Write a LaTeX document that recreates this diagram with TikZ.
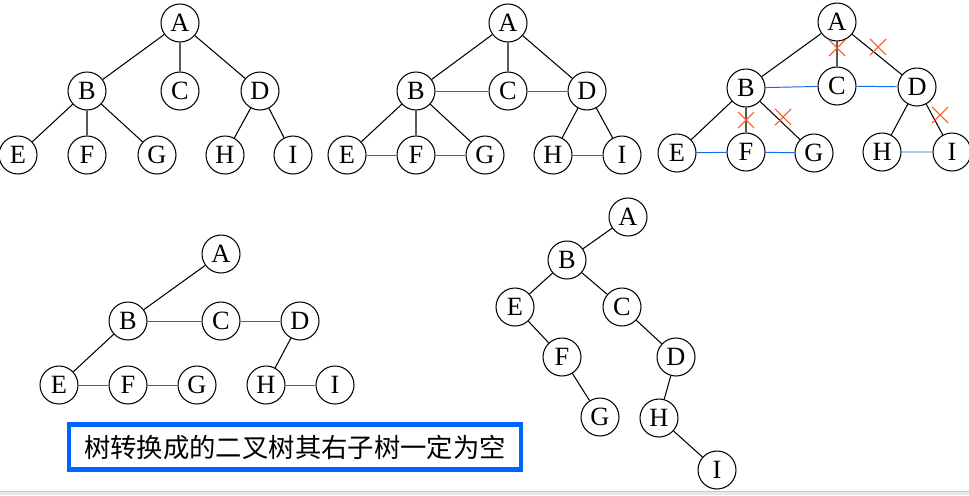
\documentclass[tikz,border=0pt]{standalone}
\usepackage{fontspec}
\setmainfont{Liberation Serif}
\newfontfamily\cjk{Noto Sans CJK SC}
\usetikzlibrary{shapes.misc}
\definecolor{linkblue}{RGB}{20,105,235}
\definecolor{boxblue}{RGB}{0,100,255}
\definecolor{cutred}{RGB}{255,85,30}

\begin{document}
\begin{tikzpicture}[x=0.02cm,y=-0.02cm,
  vert/.style={circle,draw,line width=0.6pt,minimum size=0.76cm,inner sep=0pt,
    font=\fontsize{15}{17}\selectfont},
  edge/.style={line width=0.6pt},
  sib/.style={line width=0.55pt,linkblue},
  cut/.style={cross out,draw=cutred,line width=0.6pt,minimum size=0.3cm,inner sep=0pt}]
 \useasboundingbox (0,0) rectangle (969,495);
 \fill[gray!18] (0,491) rectangle (969,495);
 \draw[gray!40] (0,491) -- (969,491);

 % the tree
 \node[vert] (a1) at (180,23) {A};
 \node[vert] (b1) at (87,91) {B};
 \node[vert] (c1) at (180,91) {C};
 \node[vert] (d1) at (260,91) {D};
 \node[vert] (e1) at (18,155) {E};
 \node[vert] (f1) at (87,155) {F};
 \node[vert] (g1) at (157,155) {G};
 \node[vert] (h1) at (225,155) {H};
 \node[vert] (i1) at (293,155) {I};
 \draw[edge] (a1) -- (b1) (a1) -- (c1) (a1) -- (d1);
 \draw[edge] (b1) -- (e1) (b1) -- (f1) (b1) -- (g1);
 \draw[edge] (d1) -- (h1) (d1) -- (i1);

 % brothers linked
 \node[vert] (a2) at (508,23) {A};
 \node[vert] (b2) at (416,91) {B};
 \node[vert] (c2) at (508,91) {C};
 \node[vert] (d2) at (587,91) {D};
 \node[vert] (e2) at (347,155) {E};
 \node[vert] (f2) at (416,155) {F};
 \node[vert] (g2) at (485,155) {G};
 \node[vert] (h2) at (553,155) {H};
 \node[vert] (i2) at (622,155) {I};
 \draw[edge] (a2) -- (b2) (a2) -- (c2) (a2) -- (d2);
 \draw[edge] (b2) -- (e2) (b2) -- (f2) (b2) -- (g2);
 \draw[edge] (d2) -- (h2) (d2) -- (i2);
 \draw[sib] (b2) -- (c2) (c2) -- (d2) (e2) -- (f2) (f2) -- (g2) (h2) -- (i2);

 % only first child kept
 \node[vert] (a3) at (837,22) {A};
 \node[vert] (b3) at (746,88) {B};
 \node[vert] (c3) at (837,86) {C};
 \node[vert] (d3) at (917,87) {D};
 \node[vert] (e3) at (677,153) {E};
 \node[vert] (f3) at (746,152) {F};
 \node[vert] (g3) at (814,153) {G};
 \node[vert] (h3) at (882,152) {H};
 \node[vert] (i3) at (952,152) {I};
 \draw[edge] (a3) -- (b3) (a3) -- (c3) (a3) -- (d3);
 \draw[edge] (b3) -- (e3) (b3) -- (f3) (b3) -- (g3);
 \draw[edge] (d3) -- (h3) (d3) -- (i3);
 \draw[sib] (b3) -- (c3) (c3) -- (d3) (e3) -- (f3) (f3) -- (g3) (h3) -- (i3);
 \node[cut] (x1) at (837,48) {};
 \node[cut] (x2) at (878,47) {};
 \node[cut] (x3) at (746,120) {};
 \node[cut] (x4) at (783,117) {};
 \node[cut] (x5) at (940,115) {};

 % after cutting
 \node[vert] (a4) at (221,254) {A};
 \node[vert] (b4) at (128,321) {B};
 \node[vert] (c4) at (221,321) {C};
 \node[vert] (d4) at (300,321) {D};
 \node[vert] (e4) at (59,385) {E};
 \node[vert] (f4) at (128,385) {F};
 \node[vert] (g4) at (197,385) {G};
 \node[vert] (h4) at (266,385) {H};
 \node[vert] (i4) at (335,385) {I};
 \draw[edge] (a4) -- (b4) (b4) -- (e4) (d4) -- (h4);
 \draw[sib] (b4) -- (c4) (c4) -- (d4) (e4) -- (f4) (f4) -- (g4) (h4) -- (i4);
 \node[draw=boxblue,line width=2.3pt,minimum width=9.05cm,minimum height=0.9cm,
   font=\cjk\fontsize{15}{18}\selectfont] (note) at (295,447) {树转换成的二叉树其右子树一定为空};

 % the binary tree
 \node[vert] (a5) at (628,217) {A};
 \node[vert] (b5) at (567,260) {B};
 \node[vert] (e5) at (515,307) {E};
 \node[vert] (c5) at (622,307) {C};
 \node[vert] (f5) at (562,357) {F};
 \node[vert] (d5) at (676,357) {D};
 \node[vert] (g5) at (600,417) {G};
 \node[vert] (h5) at (659,418) {H};
 \node[vert] (i5) at (717,470) {I};
 \draw[edge] (a5) -- (b5) (b5) -- (e5) (b5) -- (c5) (e5) -- (f5) (f5) -- (g5);
 \draw[edge] (c5) -- (d5) (d5) -- (h5) (h5) -- (i5);
\end{tikzpicture}
\end{document}
